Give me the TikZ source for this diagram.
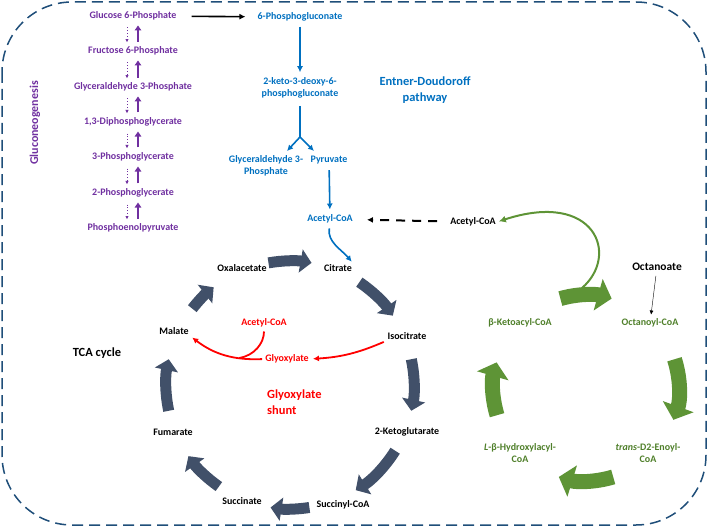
\documentclass[tikz,border=0pt]{standalone}
\usepackage{fontspec}
\setmainfont{Carlito}
\usetikzlibrary{arrows.meta}
\definecolor{purp}{HTML}{7030A0}
\definecolor{edblue}{HTML}{0070C0}
\definecolor{shuntred}{HTML}{FF0000}
\definecolor{fagreen}{HTML}{4F7F2A}
\definecolor{leaf}{HTML}{5E9436}
\definecolor{slate}{HTML}{415069}
\definecolor{frame}{HTML}{1F4E79}

\begin{document}
\begin{tikzpicture}[x=1bp,y=-1bp,
  lbl/.style={font=\fontsize{10}{12.5}\selectfont\bfseries, inner sep=1bp, align=center},
  big/.style={font=\fontsize{12.5}{16.5}\selectfont\bfseries, inner sep=1bp, align=center},
  glu_node/.style={lbl, text=purp},
  ed_node/.style={lbl, text=edblue},
  fa_node/.style={lbl, text=fagreen},
  gly_node/.style={lbl, text=shuntred},
  up_arrow/.style={line width=2bp, purp, -{Triangle[length=5bp,width=6.5bp]}, shorten <=4bp, shorten >=4bp},
  down_arrow/.style={line width=0.9bp, purp, dotted, -{Latex[length=3.5bp,width=3.5bp]}, shorten <=6bp, shorten >=3bp},
  ed_arrow/.style={line width=1.6bp, edblue, -{Latex[length=6bp,width=6bp]}},
  shunt_arrow/.style={line width=1.8bp, shuntred, -{Latex[length=6bp,width=6bp]}},
  tca_arrow/.style={line width=11bp, slate, -{Triangle[width=23bp,length=11bp]}},
  fa_arrow/.style={line width=15bp, leaf, -{Triangle[width=32bp,length=14bp]}}]
\useasboundingbox (0,0) rectangle (708,527);
\draw[frame, line width=1.5bp, dash pattern=on 11bp off 6bp, rounded corners=70bp] (2,2) rectangle (706,525);

\node[glu_node] (g6p) at (133,16) {Glucose 6-Phosphate};
\node[glu_node] (f6p) at (133,51) {Fructose 6-Phosphate};
\node[glu_node] (gap) at (133,87) {Glyceraldehyde 3-Phosphate};
\node[glu_node] (dpg) at (133,122) {1,3-Diphosphoglycerate};
\node[glu_node] (pga3) at (133,157) {3-Phosphoglycerate};
\node[glu_node] (pga2) at (133,193) {2-Phosphoglycerate};
\node[glu_node] (pep) at (133,228) {Phosphoenolpyruvate};
\node[big, text=purp, font=\fontsize{12}{14}\selectfont\bfseries, rotate=90] (gng) at (35,123) {Gluconeogenesis};

\foreach \a/\b in {g6p/f6p, f6p/gap, gap/dpg, dpg/pga3, pga3/pga2, pga2/pep} {
  \draw[down_arrow] ([xshift=-6bp]\a.south) -- ([xshift=-6bp]\b.north);
  \draw[up_arrow] ([xshift=5bp]\b.north) -- ([xshift=5bp]\a.south);
}

\node[ed_node] (pgl) at (300,17) {6-Phosphogluconate};
\node[ed_node] (kdpg) at (300,88) {2-keto-3-deoxy-6-\\phosphogluconate};
\node[big, text=edblue] (edlbl) at (425,90) {Entner-Doudoroff\\pathway};
\node[ed_node] (gapb) at (266,166) {Glyceraldehyde 3-\\Phosphate};
\node[ed_node] (pyr) at (329,160) {Pyruvate};
\node[ed_node] (acoa) at (330,219) {Acetyl-CoA};
\coordinate (split) at (300,137);
\coordinate (tipl) at (287,151);
\coordinate (tipr) at (314,151);

\draw[line width=1.6bp, -{Latex[length=6bp,width=6bp]}, shorten <=14bp, shorten >=11bp] (g6p) -- (pgl);
\draw[ed_arrow, shorten <=4bp, shorten >=4bp] (pgl) -- (kdpg);
\draw[line width=1.6bp, edblue, shorten <=6bp] (kdpg) -- (split);
\draw[ed_arrow] (split) -- (tipl);
\draw[ed_arrow] (split) -- (tipr);
\draw[ed_arrow, shorten <=5bp, shorten >=4bp] (pyr) -- (acoa);

\node[lbl] (oaa) at (242,268) {Oxalacetate};
\node[lbl] (cit) at (338,268) {Citrate};
\node[lbl] (icit) at (407,336) {Isocitrate};
\node[lbl] (akg) at (407,432) {2-Ketoglutarate};
\node[lbl] (sucoa) at (343,505) {Succinyl-CoA};
\node[lbl] (succ) at (242,501) {Succinate};
\node[lbl] (fum) at (173,432) {Fumarate};
\node[lbl] (mal) at (174,331) {Malate};
\node[big] (tcalbl) at (97,353) {TCA cycle};
\coordinate (tcac) at (290,385);

\foreach \s/\e in {100/80, 56/34, 12/-12, -32/-58, -81/-99, -125/-145, 192/168, 142/128}
  \draw[tca_arrow] ([shift={(\s:124bp)}]tcac) arc[start angle=\s, end angle=\e, radius=124bp];

\draw[ed_arrow, shorten <=4bp, shorten >=2bp] (acoa.south) to[out=-100,in=130] (cit.north east);

\node[gly_node] (glyox) at (287,359) {Glyoxylate};
\node[gly_node] (acoar) at (264,323) {Acetyl-CoA};
\node[big, text=shuntred, anchor=west, align=left] (shuntlbl) at (266,402) {Glyoxylate\\shunt};
\draw[shunt_arrow, shorten <=3bp, shorten >=3bp] (icit.south west) to[bend left=10] (glyox.east);
\draw[shunt_arrow, shorten <=2bp, shorten >=3bp] (glyox.west) to[bend left=20] coordinate[pos=0.3] (join) (mal.south east);
\draw[line width=1.8bp, shuntred, shorten <=3bp] (acoar.south) to[out=-90,in=10] (join);

\node[lbl] (acoab) at (473,222) {Acetyl-CoA};
\draw[line width=2bp, dash pattern=on 9bp off 7bp, -{Latex[length=6bp,width=6bp]}, shorten <=12bp, shorten >=13bp] (acoab) -- (acoa);

\node[lbl, font=\fontsize{11.5}{14}\selectfont\bfseries] (octa) at (657,267) {Octanoate};
\node[fa_node] (ocoa) at (650,323) {Octanoyl-CoA};
\node[fa_node] (enoyl) at (648,453) {\textit{trans}-D2-Enoyl-\\CoA};
\node[fa_node] (hacoa) at (520,453) {\textit{L}-β-Hydroxylacyl-\\CoA};
\node[fa_node] (kacoa) at (520,323) {β-Ketoacyl-CoA};
\coordinate (fac) at (586,388);
\coordinate (fork) at (582,288);

\draw[-{Latex[length=4bp,width=4bp]}, shorten <=4bp, shorten >=3bp] (octa) -- (ocoa);
\draw[line width=2bp, leaf, -{Latex[length=7bp,width=7bp]}, shorten >=2bp] (fork) .. controls (620,255) and (595,190) .. (acoab.east);
\foreach \s/\e in {106/74, 18/-20, -73/-107, 197/164}
  \draw[fa_arrow] ([shift={(\s:93bp)}]fac) arc[start angle=\s, end angle=\e, radius=93bp];
\end{tikzpicture}
\end{document}
